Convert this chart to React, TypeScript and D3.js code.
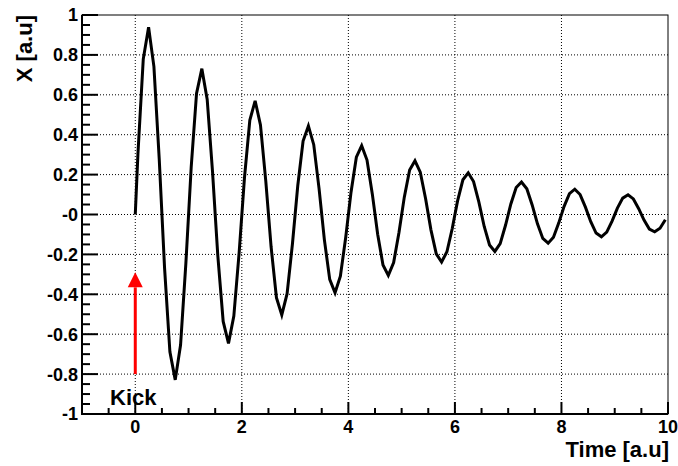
import React from 'react';
import * as d3 from 'd3';

// Sample positions inside each unit period
const phaseOffsets = [0.05, 0.15, 0.25, 0.35, 0.45, 0.55, 0.65, 0.75, 0.85, 0.95];
// Values read per period (t in [n, n+1))
const period0 = [0.305, 0.779, 0.939, 0.741, 0.276, -0.269, -0.688, -0.829, -0.654, -0.244];
const period1 = [0.238, 0.607, 0.731, 0.577, 0.215, -0.209, -0.536, -0.646, -0.509, -0.19];
const period2 = [0.185, 0.472, 0.57, 0.449, 0.167, -0.163, -0.417, -0.503, -0.397, -0.148];
const period3 = [0.144, 0.368, 0.444, 0.35, 0.13, -0.127, -0.325, -0.392, -0.309, -0.115];
const period4 = [0.112, 0.287, 0.345, 0.273, 0.102, -0.099, -0.253, -0.305, -0.241, -0.09];
const period5 = [0.087, 0.223, 0.269, 0.212, 0.079, -0.077, -0.197, -0.238, -0.187, -0.07];
const period6 = [0.068, 0.174, 0.209, 0.165, 0.062, -0.06, -0.153, -0.185, -0.146, -0.054];
const period7 = [0.053, 0.135, 0.163, 0.129, 0.048, -0.047, -0.12, -0.144, -0.114, -0.042];
const period8 = [0.041, 0.105, 0.127, 0.1, 0.037, -0.036, -0.093, -0.112, -0.088, -0.033];
const period9 = [0.032, 0.082, 0.099, 0.078, 0.029, -0.028, -0.073, -0.087, -0.069, -0.026];
const periods = [period0, period1, period2, period3, period4, period5, period6, period7, period8, period9];
const startPoint: [number, number] = [0, 0];

const xMajorTicks = [0, 2, 4, 6, 8, 10];
const xTickLabels = ['0', '2', '4', '6', '8', '10'];
const xMinorTicks = [-0.5, 0.5, 1, 1.5, 2.5, 3, 3.5, 4.5, 5, 5.5, 6.5, 7, 7.5, 8.5, 9, 9.5];
const yMajorTicks = [1, 0.8, 0.6, 0.4, 0.2, 0, -0.2, -0.4, -0.6, -0.8, -1];
const yTickLabels = ['1', '0.8', '0.6', '0.4', '0.2', '-0', '-0.2', '-0.4', '-0.6', '-0.8', '-1'];
const yMinorTicks = d3.range(-1, 1.0001, 0.05).filter((v) => Math.abs(Math.round(v * 5) - v * 5) > 1e-6);

const kickTime = 0;
const kickFrom = -0.8;
const kickTo = -0.29;

const W = 678;
const H = 466;
const L = 82;
const R = 668;
const T = 15;
const B = 414;
const FONT = '"Liberation Sans", Arial, Helvetica, sans-serif';

export default function App() {
  const x = d3.scaleLinear().domain([-1, 10]).range([L, R]);
  const y = d3.scaleLinear().domain([-1, 1]).range([B, T]);

  const pts: [number, number][] = [startPoint];
  periods.forEach((vals, n) => {
    vals.forEach((v, i) => pts.push([n + phaseOffsets[i], v]));
  });
  const line = d3
    .line<[number, number]>()
    .x((d) => x(d[0]))
    .y((d) => y(d[1]));

  const ax = x(kickTime);
  const tipY = y(kickTo);
  const headLen = 15;
  const headHalf = 7.5;

  return (
    <svg width={W} height={H} style={{ position: 'absolute', left: 0, top: 0, background: '#fff' }}>
      <rect x={0} y={0} width={W} height={H} fill="#fff" />
      {/* grid */}
      {xMajorTicks
        .filter((t) => t < 10)
        .map((t) => (
          <line key={'gx' + t} x1={x(t)} x2={x(t)} y1={T} y2={B} stroke="#000" strokeWidth={1} strokeDasharray="1,2" />
        ))}
      {yMajorTicks
        .filter((t) => Math.abs(t) < 1)
        .map((t) => (
          <line key={'gy' + t} x1={L} x2={R} y1={y(t)} y2={y(t)} stroke="#000" strokeWidth={1} strokeDasharray="1,2" />
        ))}
      {/* frame */}
      <rect x={L} y={T} width={R - L} height={B - T} fill="none" stroke="#000" strokeWidth={1} />
      <line x1={L} x2={L} y1={T} y2={B + 1} stroke="#000" strokeWidth={2} />
      <line x1={L - 1} x2={R} y1={B} y2={B} stroke="#000" strokeWidth={2} />
      {/* y ticks */}
      {yMajorTicks.map((t) => (
        <line key={'yt' + t} x1={L} x2={L + 16} y1={y(t)} y2={y(t)} stroke="#000" strokeWidth={2} />
      ))}
      {yMinorTicks.map((t) => (
        <line key={'ym' + t} x1={L} x2={L + 8} y1={y(t)} y2={y(t)} stroke="#000" strokeWidth={2} />
      ))}
      {/* x ticks */}
      {xMajorTicks.map((t) => (
        <line key={'xt' + t} x1={x(t)} x2={x(t)} y1={B} y2={B - 12} stroke="#000" strokeWidth={2} />
      ))}
      {xMinorTicks.map((t) => (
        <line key={'xm' + t} x1={x(t)} x2={x(t)} y1={B} y2={B - 6} stroke="#000" strokeWidth={2} />
      ))}
      {/* tick labels */}
      {yMajorTicks.map((t, i) => (
        <text key={'yl' + t} x={78} y={y(t)} dy="0.36em" textAnchor="end" fontFamily={FONT} fontWeight="bold" fontSize={18} fill="#000">
          {yTickLabels[i]}
        </text>
      ))}
      {xMajorTicks.map((t, i) => (
        <text key={'xl' + t} x={x(t)} y={433} textAnchor="middle" fontFamily={FONT} fontWeight="bold" fontSize={18} fill="#000">
          {xTickLabels[i]}
        </text>
      ))}
      {/* axis titles */}
      <text x={669} y={457} textAnchor="end" fontFamily={FONT} fontWeight="bold" fontSize={22} fill="#000">
        Time [a.u]
      </text>
      <text
        transform={`translate(32, ${T}) rotate(-90)`}
        textAnchor="end"
        fontFamily={FONT}
        fontWeight="bold"
        fontSize={22}
        fill="#000"
      >
        X [a.u]
      </text>
      {/* data */}
      <path d={line(pts) || ''} fill="none" stroke="#000" strokeWidth={3} strokeLinejoin="miter" />
      {/* kick arrow */}
      <line x1={ax} x2={ax} y1={y(kickFrom)} y2={tipY + headLen} stroke="#ff0000" strokeWidth={3} />
      <polygon
        points={`${ax},${tipY} ${ax - headHalf},${tipY + headLen} ${ax + headHalf},${tipY + headLen}`}
        fill="#ff0000"
      />
      <text x={110} y={405} fontFamily={FONT} fontWeight="bold" fontSize={22} fill="#000">
        Kick
      </text>
    </svg>
  );
}
